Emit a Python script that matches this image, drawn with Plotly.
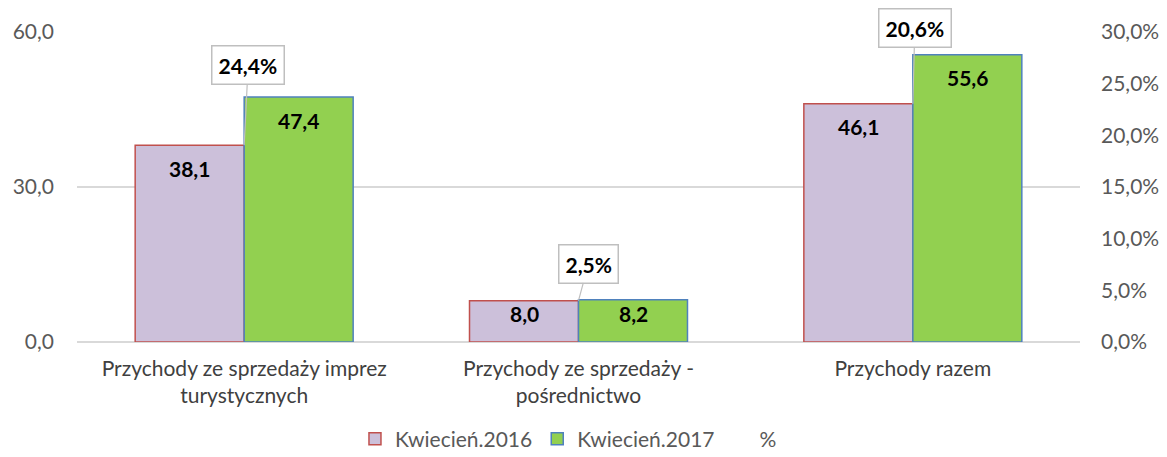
import plotly.graph_objects as go

categories = ["Przychody ze sprzedaży imprez<br>turystycznych",
              "Przychody ze sprzedaży -<br>pośrednictwo",
              "Przychody razem"]
kw2016 = [38.1, 8.0, 46.1]
kw2017 = [47.4, 8.2, 55.6]
pct = [0.244, 0.025, 0.206]
pct_labels = ["24,4%", "2,5%", "20,6%"]
series_names = ["Kwiecień.2016", "Kwiecień.2017", "%"]

FONT = "Lato, Carlito, Calibri, sans-serif"
BARGAP = 0.348
fig = go.Figure()
fig.add_trace(go.Bar(x=categories, y=kw2016, name=series_names[0],
                     marker=dict(color="#CCC0DA", line=dict(color="#C0504D", width=1.5))))
fig.add_trace(go.Bar(x=categories, y=kw2017, name=series_names[1],
                     marker=dict(color="#92D050", line=dict(color="#4F81BD", width=1.5))))
fig.add_trace(go.Scatter(x=categories, y=pct, name=series_names[2], yaxis="y2",
                         mode="lines", line=dict(color="rgba(0,0,0,0)", width=0),
                         hoverinfo="skip"))

px_per_unit = 310 / 60
half = (1 - BARGAP) / 4
annotations = []
for i, c in enumerate(categories):
    for v, xs in ((kw2016[i], -half), (kw2017[i], half)):
        h = v * px_per_unit
        shift = -min(23, h * 0.32)
        annotations.append(dict(x=i + xs, y=v, xref="x", yref="y",
                                text=f"<b>{v:.1f}</b>".replace(".", ","),
                                showarrow=False, yshift=shift, yanchor="middle",
                                font=dict(family=FONT, size=21, color="#000000")))
offsets = [(4, -80), (10, -37), (2, -76)]
for i, c in enumerate(categories):
    ax, ay = offsets[i]
    annotations.append(dict(x=i, y=kw2016[i], xref="x", yref="y", text=f"<b>{pct_labels[i]}</b>",
                            showarrow=True, arrowhead=0, arrowwidth=1.2, arrowcolor="#BFBFBF",
                            ax=ax, ay=ay, bgcolor="#FFFFFF", bordercolor="#BFBFBF", borderwidth=1.5,
                            borderpad=6, font=dict(family=FONT, size=21, color="#000000")))

# the page body has an 8px default margin; size the figure so it fits the window
fig.update_layout(
    width=1159, height=449,
    margin=dict(l=69, r=87, t=24, b=115, autoexpand=False),
    paper_bgcolor="white", plot_bgcolor="white",
    separators=", ",
    barmode="group", bargap=BARGAP, bargroupgap=0,
    font=dict(family=FONT, size=21, color="#595959"),
    xaxis=dict(tickfont=dict(size=21, color="#404040"), showline=False, ticks="",
               ticklabelstandoff=12),
    yaxis=dict(range=[0, 60], tickvals=[0, 30, 60], tickformat=".1f", showgrid=True,
               gridcolor="#D9D9D9", gridwidth=1.5, zeroline=True, zerolinecolor="#D9D9D9",
               zerolinewidth=1.5, ticks="", ticklabelstandoff=22,
               tickfont=dict(size=21, color="#595959")),
    yaxis2=dict(range=[0, 0.30], dtick=0.05, tickformat=".1%", overlaying="y", side="right",
                showgrid=False, zeroline=False, ticks="", ticklabelstandoff=20,
                tickfont=dict(size=21, color="#595959")),
    legend=dict(orientation="h", x=0.49, xanchor="center", yref="container", y=0.04,
                yanchor="middle", font=dict(size=21, color="#595959")),
    showlegend=True,
    annotations=annotations,
)
fig.write_html("out.html")
